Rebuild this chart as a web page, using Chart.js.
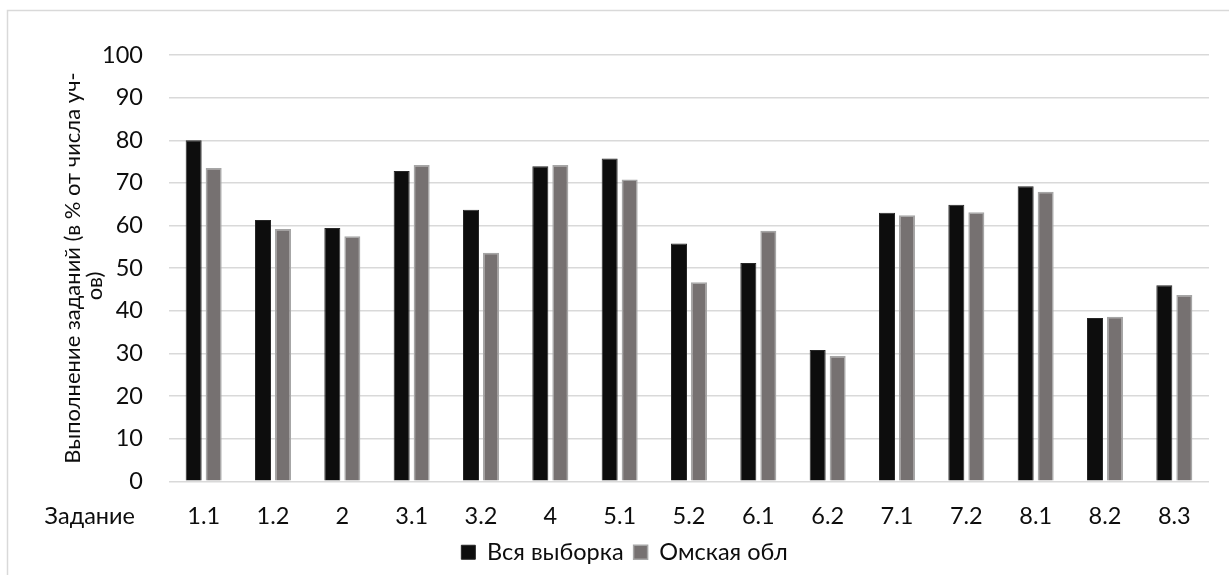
<!DOCTYPE html>
<html>
<head>
<meta charset="utf-8">
<script src="https://cdn.jsdelivr.net/npm/chart.js@4/dist/chart.umd.min.js"></script>
<style>
  body { margin: 0; background: #fff; }
  #chart { display: block; }
</style>
</head>
<body>
<canvas id="chart" width="1229" height="575"></canvas>
<script>
const categories = ['1.1', '1.2', '2', '3.1', '3.2', '4', '5.1', '5.2', '6.1', '6.2', '7.1', '7.2', '8.1', '8.2', '8.3'];
const allSample = [80.0, 61.3, 59.4, 72.8, 63.7, 73.9, 75.7, 55.8, 51.2, 30.8, 63.0, 64.9, 69.2, 38.3, 46.0];
const omsk = [73.5, 59.2, 57.5, 74.2, 53.6, 74.2, 70.8, 46.7, 58.8, 29.4, 62.4, 63.1, 67.9, 38.6, 43.7];
const yTicks = [0, 10, 20, 30, 40, 50, 60, 70, 80, 90, 100];

const FONT = 'Lato, "Open Sans", sans-serif';
const TEXT = '#0d0d0d';
const SIZE = 23.5;

// frame, y title and the "Задание" caption
const extras = {
  id: 'extras',
  beforeDraw(chart) {
    const ctx = chart.ctx;
    ctx.save();
    ctx.strokeStyle = '#d9d9d9';
    ctx.lineWidth = 1.5;
    ctx.beginPath();
    ctx.moveTo(7.5, 600);
    ctx.lineTo(7.5, 10.5);
    ctx.lineTo(1240, 10.5);
    ctx.stroke();
    ctx.restore();
  },
  afterDraw(chart) {
    const ctx = chart.ctx;
    ctx.save();
    ctx.fillStyle = TEXT;
    ctx.font = SIZE + 'px ' + FONT;
    ctx.textBaseline = 'middle';
    ctx.textAlign = 'right';
    ctx.fillText('Задание', 135, 516);

    // y title, wrapped like the original
    ctx.font = '22px ' + FONT;
    ctx.translate(73, 268);
    ctx.rotate(-Math.PI / 2);
    ctx.textAlign = 'center';
    ctx.fillText('Выполнение заданий (в % от числа уч-', 0, 0);
    ctx.fillText('ов)', -18, 22);
    ctx.restore();
  }
};

new Chart(document.getElementById('chart'), {
  type: 'bar',
  data: {
    labels: categories,
    datasets: [
      {
        label: 'Вся выборка',
        data: allSample,
        backgroundColor: '#0d0d0d',
        borderColor: '#262626',
        borderWidth: 1
      },
      {
        label: 'Омская обл',
        data: omsk,
        backgroundColor: '#767171',
        borderColor: '#a6a6a6',
        borderWidth: 1.5
      }
    ]
  },
  options: {
    responsive: false,
    animation: false,
    devicePixelRatio: 1,
    barPercentage: 0.8,
    categoryPercentage: 0.577,
    layout: { padding: { left: 40, right: 20, top: 55, bottom: 1 } },
    plugins: {
      tooltip: { enabled: false },
      legend: {
        position: 'bottom',
        labels: {
          color: TEXT,
          font: { family: FONT, size: SIZE },
          boxWidth: 14,
          boxHeight: 14,
          padding: 10
        }
      }
    },
    scales: {
      x: {
        // invisible tick marks give the gap under the axis
        grid: { display: true, drawOnChartArea: false, drawTicks: true, tickLength: 21, color: 'rgba(0,0,0,0)' },
        border: { display: false },
        ticks: { color: TEXT, font: { family: FONT, size: SIZE }, padding: 0, maxRotation: 0 }
      },
      y: {
        min: 0,
        max: 100,
        afterBuildTicks(scale) { scale.ticks = yTicks.map(v => ({ value: v })); },
        grid: { color: '#d9d9d9', lineWidth: 1.5, drawTicks: false },
        border: { display: false },
        ticks: { color: TEXT, font: { family: FONT, size: SIZE }, padding: 26 },
        afterFit(scale) { scale.width = 129; }
      }
    }
  },
  plugins: [extras]
});
</script>
</body>
</html>
